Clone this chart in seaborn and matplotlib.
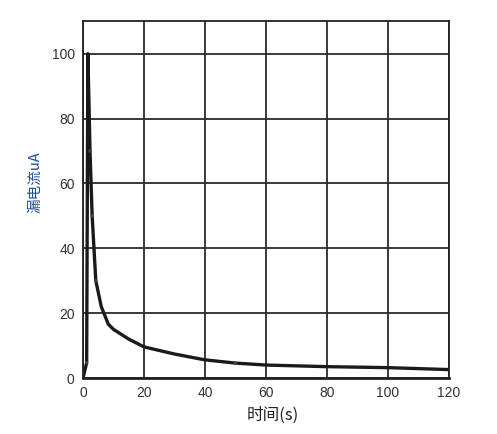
import numpy as np
import pandas as pd
import seaborn as sns
import matplotlib
matplotlib.use("Agg")
import matplotlib.pyplot as plt

# 时间 (s) 与 漏电流 (uA)
tempo = [0, 1.2, 1.6, 2.3, 3.0, 4.2, 6.0, 8.3, 10, 15, 20, 30, 40, 50, 60, 80, 100, 120]
corrente = [0, 4.7, 100, 70, 50, 30, 22, 16.6, 15, 12, 9.6, 7.4, 5.6, 4.6, 4.0, 3.5, 3.2, 2.6]
marcados = [1.2, 2.3, 3.0, 4.2, 50]

xticks = [0, 20, 40, 60, 80, 100, 120]
yticks = [0, 20, 40, 60, 80, 100]

sns.set_theme(style="white")
plt.rcParams['font.family'] = ['Noto Sans CJK SC', 'DejaVu Sans']

df = pd.DataFrame({'t': tempo, 'i': corrente})
df_m = df[df['t'].isin(marcados)]

fig = plt.figure(figsize=(4.97, 4.34), dpi=100)
ax = fig.add_axes([0.167, 0.129, 0.736, 0.822])

sns.lineplot(data=df, x='t', y='i', sort=False, color='#1a1a1a',
             linewidth=2.4, ax=ax)
sns.scatterplot(data=df_m, x='t', y='i', color='#444444', s=6,
                marker='o', edgecolor='none', ax=ax, zorder=5)

ax.set_xlim(0, 120)
ax.set_ylim(0, 110)
ax.set_xticks(xticks)
ax.set_yticks(yticks)
ax.grid(True, color='#2b2b2b', linewidth=1.3)
ax.set_axisbelow(True)
for s in ax.spines.values():
    s.set_color('#222222')
    s.set_linewidth(1.3)
ax.spines['bottom'].set_linewidth(2)

ax.tick_params(axis='both', labelsize=10, colors='#333333', length=0, pad=6)
for lbl in ax.get_xticklabels() + ax.get_yticklabels():
    lbl.set_fontfamily('Liberation Sans')

ax.set_xlabel('时间(s)', fontsize=12, color='#222222')
ax.set_ylabel('漏电流uA', fontsize=10.5, color='#1f4e9a')
ax.xaxis.set_label_coords(0.519, -0.08)
ax.yaxis.set_label_coords(-0.112, 0.548)

fig.savefig('out.png', dpi=100)
